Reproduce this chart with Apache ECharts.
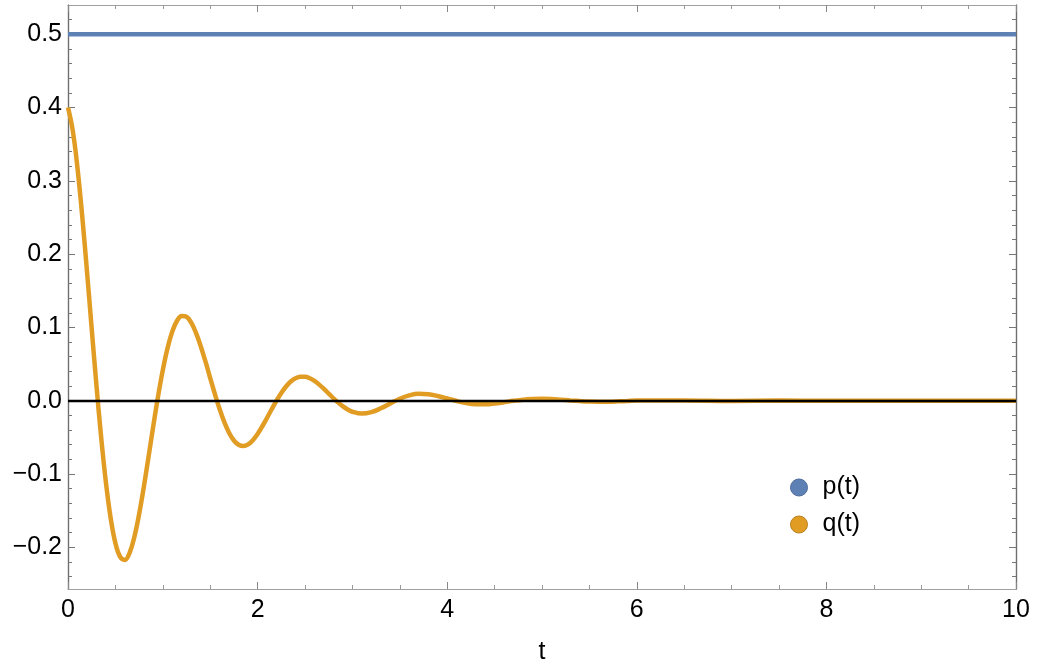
<!DOCTYPE html>
<html>
<head>
<meta charset="utf-8">
<script src="https://cdn.jsdelivr.net/npm/echarts@6/dist/echarts.min.js"></script>
<style>
  html, body { margin: 0; padding: 0; background: #fff; }
  #chart { width: 1038px; height: 669px; }
</style>
</head>
<body>
<div id="chart"></div>
<script>
// values
const tValues = [
  0, 0.05, 0.1, 0.15, 0.2, 0.25, 0.3, 0.35, 0.4, 0.45,
  0.5, 0.55, 0.6, 0.65, 0.7, 0.75, 0.8, 0.85, 0.9, 0.95,
  1.0, 1.05, 1.1, 1.15, 1.2, 1.25, 1.3, 1.35, 1.4, 1.45,
  1.5, 1.55, 1.6, 1.65, 1.7, 1.75, 1.8, 1.85, 1.9, 1.95,
  2.0, 2.05, 2.1, 2.15, 2.2, 2.25, 2.3, 2.35, 2.4, 2.45,
  2.5, 2.55, 2.6, 2.65, 2.7, 2.75, 2.8, 2.85, 2.9, 2.95,
  3.0, 3.1, 3.2, 3.3, 3.4, 3.5, 3.6, 3.7, 3.8, 3.9,
  4.0, 4.1, 4.2, 4.3, 4.4, 4.5, 4.6, 4.7, 4.8, 4.9,
  5.0, 5.1, 5.2, 5.3, 5.4, 5.5, 5.6, 5.7, 5.8, 5.9,
  6.0, 6.5, 7.0, 7.5, 8.0, 8.5, 9.0, 9.5, 10.0
];
const qValues = [
  0.4, 0.3687, 0.3176, 0.2519, 0.1769, 0.0982, 0.0210, -0.0502, -0.1116, -0.1602,
  -0.1944, -0.2133, -0.2173, -0.2076, -0.1860, -0.1550, -0.1175, -0.0763, -0.0343, 0.0058,
  0.0417, 0.0717, 0.0944, 0.1091, 0.1157, 0.1146, 0.1065, 0.0925, 0.0744, 0.0535,
  0.0309, 0.0088, -0.0118, -0.0296, -0.0440, -0.0543, -0.0602, -0.0619, -0.0597, -0.0539,
  -0.0454, -0.0349, -0.0233, -0.0113, 0.0002, 0.0106, 0.0194, 0.0261, 0.0306, 0.0328,
  0.0328, 0.0307, 0.0270, 0.0219, 0.0160, 0.0097, 0.0033, -0.0026, -0.0078, -0.0120,
  -0.0151, -0.0176, -0.0156, -0.0104, -0.0037, 0.0027, 0.0072, 0.0093, 0.0088, 0.0064,
  0.0030, -0.0005, -0.0033, -0.0048, -0.0049, -0.0039, -0.0021, -0.0002, 0.0014, 0.0024,
  0.0027, 0.0023, 0.0014, 0.0004, -0.0005, -0.0012, -0.0014, -0.0013, -0.0009, -0.0004,
  0.0002, 0.0003, -0.0003, 0.0002, -0.0001, 0, 0, 0, 0
];
const pTimes = [0, 10];
const pValues = [0.5, 0.5];

const seriesNames = ['p(t)', 'q(t)'];
const yMajorTicks = [-0.2, -0.1, 0, 0.1, 0.2, 0.3, 0.4, 0.5];
const yMinorTicks = [
  -0.24, -0.22, -0.18, -0.16, -0.14, -0.12, -0.08, -0.06, -0.04, -0.02,
  0.02, 0.04, 0.06, 0.08, 0.12, 0.14, 0.16, 0.18, 0.22, 0.24, 0.26, 0.28,
  0.32, 0.34, 0.36, 0.38, 0.42, 0.44, 0.46, 0.48, 0.52
];
const yMin = -0.257;
const yMax = 0.54;

const blue = '#5E81B5';
const orange = '#E19C24';
const font = 'Liberation Sans, Arial, sans-serif';

const chart = echarts.init(document.getElementById('chart'), null, { renderer: 'canvas' });

function zip(xs, ys) {
  return xs.map((x, i) => [x, ys[i]]);
}

// one y axis per side and tick kind, all sharing the same range
function yAxisDef(position, ticks, len, labels) {
  return {
    type: 'value',
    position: position,
    min: yMin,
    max: yMax,
    axisLine: { show: true, onZero: false, lineStyle: { color: '#6f6f6f', width: 1.2 } },
    axisTick: {
      show: true,
      inside: true,
      length: len,
      customValues: ticks,
      lineStyle: { color: '#777', width: 1 }
    },
    axisLabel: {
      show: labels,
      customValues: ticks,
      margin: 6,
      fontSize: 25,
      fontFamily: font,
      color: '#000',
      formatter: v => (v < 0 ? '\u2212' : '') + Math.abs(v).toFixed(1)
    },
    splitLine: { show: false }
  };
}

function xAxisDef(position, labels) {
  return {
    type: 'value',
    position: position,
    min: 0,
    max: 10,
    interval: 2,
    axisLine: { show: true, onZero: false, lineStyle: { color: '#a0a0a0', width: 1.2 } },
    axisTick: { show: true, inside: true, length: 7, lineStyle: { color: '#888' } },
    minorTick: { show: true, splitNumber: 4, length: 4, lineStyle: { color: '#999' } },
    axisLabel: {
      show: labels,
      margin: 9,
      fontSize: 25,
      fontFamily: font,
      color: '#000'
    },
    name: labels ? 't' : '',
    nameLocation: 'middle',
    nameGap: 51,
    nameTextStyle: { fontSize: 25, fontFamily: font, color: '#000' },
    splitLine: { show: false },
    minorSplitLine: { show: false }
  };
}

const option = {
  animation: false,
  backgroundColor: '#fff',
  grid: {
    left: 68,
    right: 22,
    top: 5,
    bottom: 80,
    containLabel: false,
    outerBoundsMode: 'none'
  },
  legend: {
    orient: 'vertical',
    left: 785,
    top: 470,
    icon: 'circle',
    itemWidth: 37,
    itemHeight: 17,
    itemGap: 12,
    textStyle: { fontSize: 25, fontFamily: font, color: '#000', lineHeight: 17 },
    data: [
      { name: seriesNames[0], itemStyle: { borderColor: '#4d6c9c', borderWidth: 1 } },
      { name: seriesNames[1], itemStyle: { borderColor: '#b97f1c', borderWidth: 1 } }
    ]
  },
  xAxis: [xAxisDef('bottom', true), xAxisDef('top', false)],
  yAxis: [
    yAxisDef('left', yMajorTicks, 7, true),
    yAxisDef('left', yMinorTicks, 4, false),
    yAxisDef('right', yMajorTicks, 7, false),
    yAxisDef('right', yMinorTicks, 4, false)
  ],
  series: [
    {
      name: seriesNames[0],
      type: 'line',
      xAxisIndex: 0,
      yAxisIndex: 0,
      data: zip(pTimes, pValues),
      showSymbol: false,
      symbol: 'none',
      color: blue,
      lineStyle: { color: blue, width: 4.5 }
    },
    {
      name: seriesNames[1],
      type: 'line',
      xAxisIndex: 0,
      yAxisIndex: 0,
      data: zip(tValues, qValues),
      smooth: 0.4,
      showSymbol: false,
      symbol: 'none',
      color: orange,
      lineStyle: { color: orange, width: 4.5 },
      markLine: {
        silent: true,
        symbol: 'none',
        label: { show: false },
        lineStyle: { color: '#000', width: 2.4, type: 'solid' },
        data: [{ yAxis: 0 }]
      }
    }
  ]
};

chart.setOption(option);
</script>
</body>
</html>
